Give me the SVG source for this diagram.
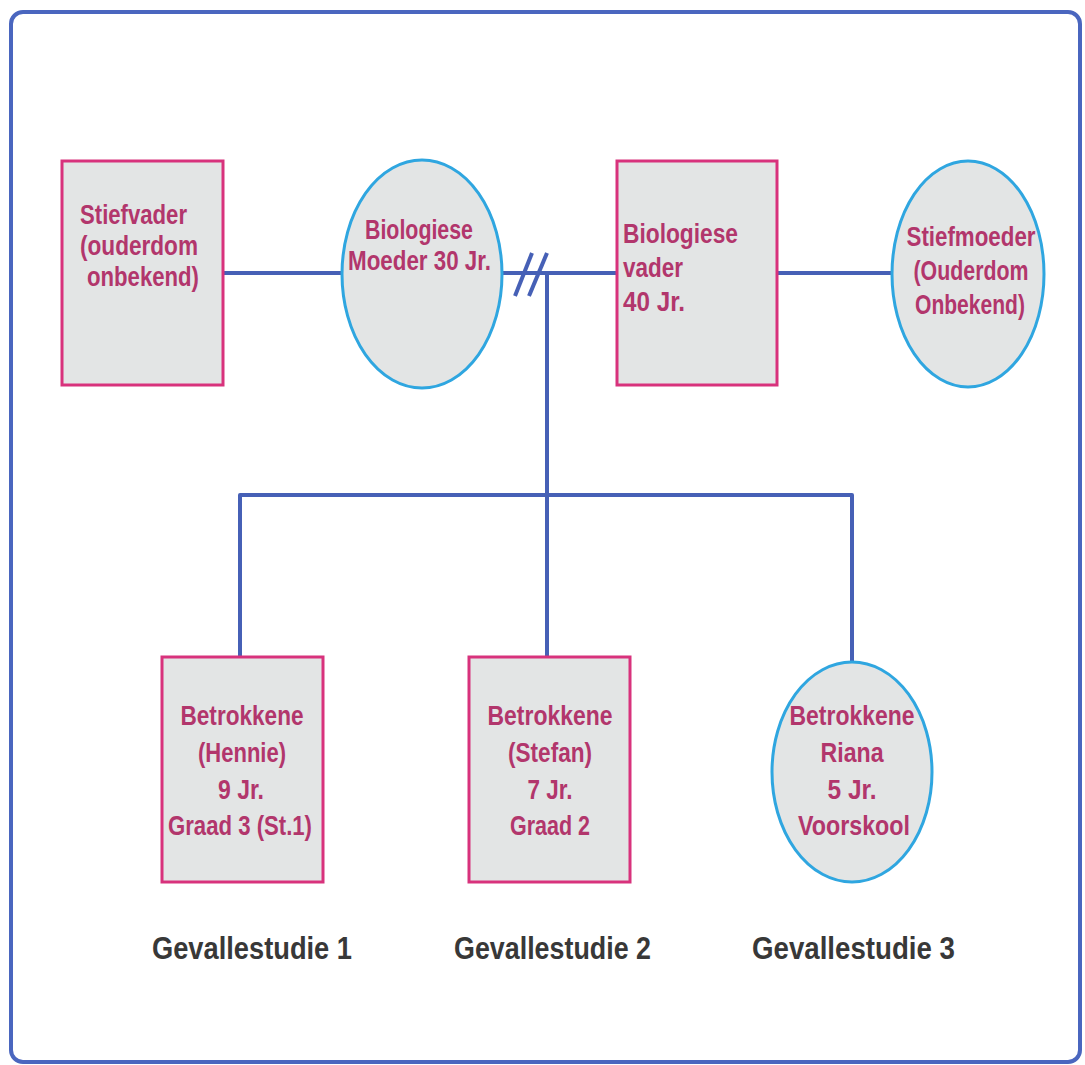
<svg xmlns="http://www.w3.org/2000/svg" width="1085" height="1065" viewBox="0 0 1085 1065">
<style>
.box{fill:#e3e5e5;stroke:#d8327c;stroke-width:3}
.oval{fill:#e3e5e5;stroke:#2fa6e0;stroke-width:3}
.t{font-family:"Liberation Sans",Arial,sans-serif;font-weight:bold;font-size:28px;fill:#b2366c}
.c{text-anchor:middle}
.lbl{font-family:"Liberation Sans",Arial,sans-serif;font-weight:bold;font-size:32px;fill:#383838}
.ln{fill:none;stroke:#4660b6;stroke-width:4;stroke-linejoin:round;stroke-linecap:butt}
</style>
<rect x="0" y="0" width="1085" height="1065" fill="#ffffff"/>
<rect id="frame" x="11" y="12" width="1069" height="1050" rx="12" fill="none" stroke="#4a66bf" stroke-width="4"/>
<g id="connectors">
<line class="ln" x1="223" y1="273" x2="342" y2="273"/>
<line class="ln" x1="502" y1="273" x2="617" y2="273"/>
<line class="ln" x1="777" y1="273" x2="892" y2="273"/>
<line class="ln" x1="515" y1="296" x2="532" y2="253"/>
<line class="ln" x1="529" y1="296" x2="547" y2="253"/>
<line class="ln" x1="547" y1="273" x2="547" y2="495"/>
<polyline class="ln" points="240,657 240,495 852,495 852,662"/>
<line class="ln" x1="547" y1="495" x2="547" y2="657"/>
</g>
<g id="stiefvader">
<rect class="box" x="62" y="161" width="161" height="224"/>
<text class="t" x="80" y="224" textLength="107" lengthAdjust="spacingAndGlyphs">Stiefvader</text>
<text class="t" x="80" y="255" textLength="118" lengthAdjust="spacingAndGlyphs">(ouderdom</text>
<text class="t" x="87" y="286" textLength="112" lengthAdjust="spacingAndGlyphs">onbekend)</text>
</g>
<g id="moeder">
<ellipse class="oval" cx="422" cy="274" rx="80" ry="114"/>
<text class="t" x="365" y="239" textLength="108" lengthAdjust="spacingAndGlyphs">Biologiese</text>
<text class="t" x="348" y="270" textLength="143" lengthAdjust="spacingAndGlyphs">Moeder 30 Jr.</text>
</g>
<g id="vader">
<rect class="box" x="617" y="161" width="160" height="224"/>
<text class="t" x="623" y="243" textLength="115" lengthAdjust="spacingAndGlyphs">Biologiese</text>
<text class="t" x="623" y="277" textLength="60" lengthAdjust="spacingAndGlyphs">vader</text>
<text class="t" x="623" y="311" textLength="62" lengthAdjust="spacingAndGlyphs">40 Jr.</text>
</g>
<g id="stiefmoeder">
<ellipse class="oval" cx="968" cy="274" rx="76" ry="113"/>
<text class="t c" x="971" y="246" textLength="129" lengthAdjust="spacingAndGlyphs">Stiefmoeder</text>
<text class="t c" x="971" y="280" textLength="115" lengthAdjust="spacingAndGlyphs">(Ouderdom</text>
<text class="t c" x="970" y="314" textLength="110" lengthAdjust="spacingAndGlyphs">Onbekend)</text>
</g>
<g id="hennie">
<rect class="box" x="162" y="657" width="161" height="225"/>
<text class="t c" x="242" y="725" textLength="123" lengthAdjust="spacingAndGlyphs">Betrokkene</text>
<text class="t c" x="242" y="762" textLength="88" lengthAdjust="spacingAndGlyphs">(Hennie)</text>
<text class="t c" x="241" y="799" textLength="46" lengthAdjust="spacingAndGlyphs">9 Jr.</text>
<text class="t c" x="240" y="835" textLength="144" lengthAdjust="spacingAndGlyphs">Graad 3 (St.1)</text>
</g>
<g id="stefan">
<rect class="box" x="469" y="657" width="161" height="225"/>
<text class="t c" x="550" y="725" textLength="125" lengthAdjust="spacingAndGlyphs">Betrokkene</text>
<text class="t c" x="550" y="762" textLength="84" lengthAdjust="spacingAndGlyphs">(Stefan)</text>
<text class="t c" x="550" y="799" textLength="45" lengthAdjust="spacingAndGlyphs">7 Jr.</text>
<text class="t c" x="550" y="835" textLength="80" lengthAdjust="spacingAndGlyphs">Graad 2</text>
</g>
<g id="riana">
<ellipse class="oval" cx="852" cy="772" rx="80" ry="110"/>
<text class="t c" x="852" y="725" textLength="125" lengthAdjust="spacingAndGlyphs">Betrokkene</text>
<text class="t c" x="852" y="762" textLength="63" lengthAdjust="spacingAndGlyphs">Riana</text>
<text class="t c" x="852" y="799" textLength="49" lengthAdjust="spacingAndGlyphs">5 Jr.</text>
<text class="t c" x="854" y="835" textLength="112" lengthAdjust="spacingAndGlyphs">Voorskool</text>
</g>
<g id="labels">
<text class="lbl" x="152" y="959" textLength="200" lengthAdjust="spacingAndGlyphs">Gevallestudie 1</text>
<text class="lbl" x="454" y="959" textLength="197" lengthAdjust="spacingAndGlyphs">Gevallestudie 2</text>
<text class="lbl" x="752" y="959" textLength="203" lengthAdjust="spacingAndGlyphs">Gevallestudie 3</text>
</g>
</svg>
